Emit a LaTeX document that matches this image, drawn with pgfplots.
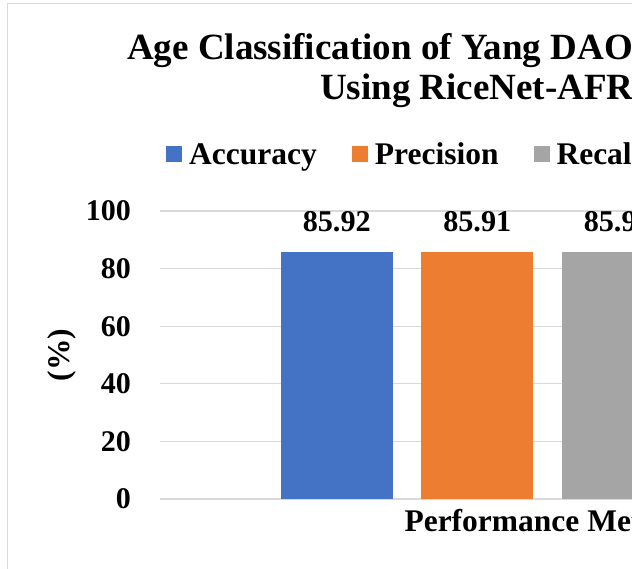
\documentclass[border=0pt]{standalone}
\usepackage{fontspec}
\setmainfont{Liberation Serif}
\usepackage{pgfplots}
\pgfplotsset{compat=1.18}
\definecolor{cBlue}{HTML}{4472C4}
\definecolor{cOrange}{HTML}{ED7D31}
\definecolor{cGray}{HTML}{A5A5A5}
\definecolor{cYellow}{HTML}{FFC000}
\definecolor{cGrid}{HTML}{D9D9D9}
\begin{document}
\begin{tikzpicture}[x=1pt,y=1pt]
\useasboundingbox (0,0) rectangle (632,569);
\clip (0,0) rectangle (632,569);
\fill[white] (0,0) rectangle (632,569);
\draw[cGrid, line width=1.5pt] (7.5,-5) -- (7.5,565.5) -- (660,565.5);
\node[anchor=base west, inner sep=0pt, font=\fontsize{37}{40}\selectfont\bfseries] at (127,509.5) {Age Classification of Yang DAO Rice Seeds};
\node[anchor=base west, inner sep=0pt, font=\fontsize{37}{40}\selectfont\bfseries] at (320,469.5) {Using RiceNet-AFRN};
\begin{axis}[
  at={(160pt,70pt)}, anchor=south west,
  scale only axis, width=775pt, height=288pt,
  xmin=0, xmax=2, ymin=0, ymax=100,
  ybar=28.5pt, bar width=112pt,
  ytick={0,20,...,100}, xtick=\empty,
  ymajorgrids, grid style={cGrid, line width=1.2pt},
  axis line style={draw=none},
  major tick length=0pt,
  /pgf/number format/assume math mode=true,
  tick label style={font=\fontsize{30}{30}\selectfont\bfseries},
  yticklabel style={inner sep=0pt, anchor=east, xshift=-29pt},
  point meta=explicit symbolic,
  nodes near coords,
  nodes near coords style={font=\fontsize{30.2}{30}\selectfont\bfseries, anchor=base, inner sep=0pt, yshift=20.5pt},
  xlabel={Performance Metrics},
  xlabel style={at={(axis description cs:0.5,-0.1146)}, anchor=base, inner sep=0pt, font=\fontsize{31.5}{31}\selectfont\bfseries},
  ylabel={(\%)},
  ylabel style={at={(axis description cs:-0.1265,0.5)}, anchor=center, inner sep=0pt, font=\fontsize{31.5}{31}\selectfont\bfseries},
  legend columns=4,
  legend image code/.code={\fill[#1] (0pt,-7pt) rectangle (16pt,9pt);},
  legend style={at={(rel axis cs:0.00774,1.1956)}, anchor=west, draw=none, fill=none, inner sep=0pt,
    font=\fontsize{31.5}{31}\selectfont\bfseries,
    nodes={inner sep=0pt},
    /tikz/every odd column/.append style={column sep=7pt},
    /tikz/every even column/.append style={column sep=35pt}},
]
\addplot[fill=cBlue, draw=none] coordinates {(1,85.92) [85.92]};
\addplot[fill=cOrange, draw=none] coordinates {(1,85.91) [85.91]};
\addplot[fill=cGray, draw=none] coordinates {(1,85.92) [85.92]};
\addplot[fill=cYellow, draw=none] coordinates {(1,85.91) [85.91]};
\legend{Accuracy, Precision, Recall, F1-Score}
\end{axis}
\end{tikzpicture}
\end{document}
